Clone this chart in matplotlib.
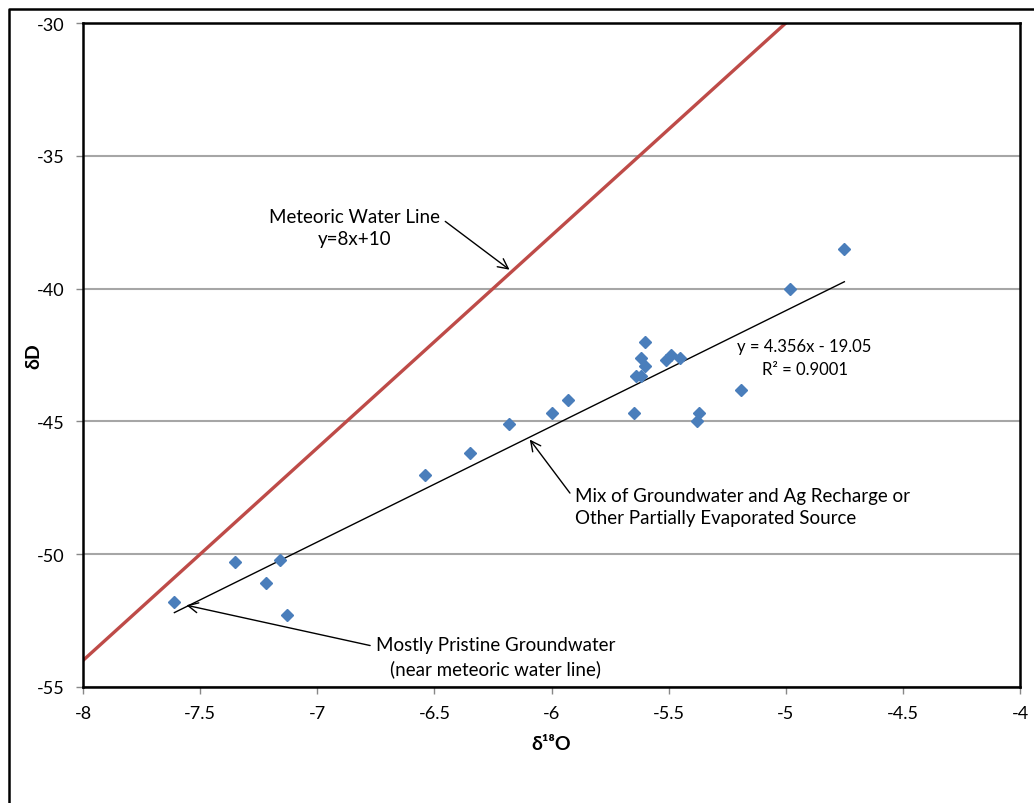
import matplotlib
matplotlib.use("Agg")
import matplotlib.pyplot as plt
import numpy as np
from matplotlib.lines import Line2D

plt.rcParams['font.family'] = ['Lato', 'DejaVu Sans']
plt.rcParams['axes.unicode_minus'] = False

# sample isotope values
d18o = [-7.61, -7.35, -7.16, -7.22, -7.13, -6.54, -6.35, -6.18, -6.00, -5.93,
        -5.60, -5.62, -5.60, -5.64, -5.62, -5.51, -5.49, -5.45, -5.19, -5.65,
        -5.37, -5.38, -4.98, -4.75]
dD = [-51.8, -50.3, -50.2, -51.1, -52.3, -47.0, -46.2, -45.1, -44.7, -44.2,
      -42.0, -42.6, -42.9, -43.3, -43.3, -42.7, -42.5, -42.6, -43.8, -44.7,
      -44.7, -45.0, -40.0, -38.5]

# lines
mwl_slope, mwl_icpt = 8, 10
fit_slope, fit_icpt = 4.356, -19.05
x_ticks = [-8, -7.5, -7, -6.5, -6, -5.5, -5, -4.5, -4]
y_ticks = [-55, -50, -45, -40, -35, -30]

fig = plt.figure(figsize=(10.34, 8.04), dpi=100)
ax = fig.add_axes([0.0803, 0.1443, 0.9062, 0.8258])

# outer chart border (Excel style)
fig.add_artist(Line2D([0.0087, 0.0087, 1.0], [0.0, 0.9876, 0.9876],
                      transform=fig.transFigure, color='black', lw=1.8))

ax.set_xlim(-8, -4)
ax.set_ylim(-55, -30)
ax.set_xticks(x_ticks)
ax.set_xticklabels([f"{t:g}" for t in x_ticks])
ax.set_yticks(y_ticks)
ax.yaxis.grid(True, color='#a6a6a6', lw=1.5)
ax.set_axisbelow(True)
for s in ax.spines.values():
    s.set_color('black')
    s.set_linewidth(1.8)
ax.tick_params(axis='both', labelsize=13, length=5, color='#888888', width=1)
ax.tick_params(axis='x', pad=8)
ax.tick_params(axis='y', pad=8)

# meteoric water line
mx = np.array([-8, -4])
ax.plot(mx, mwl_slope * mx + mwl_icpt, color='#be4b48', lw=2.4, zorder=2)

# linear trend
fx = np.array([min(d18o), max(d18o)])
ax.plot(fx, fit_slope * fx + fit_icpt, color='black', lw=1, zorder=3)

ax.plot(d18o, dD, 'D', color='#4a7ebb', markersize=6.5, zorder=4)

ax.set_xlabel("δ¹⁸O", fontsize=14, fontweight='bold', labelpad=10)
ax.set_ylabel("δD", fontsize=14, fontweight='bold', labelpad=-4)

ax.text(-4.92, -42.6, "y = 4.356x - 19.05\nR² = 0.9001", fontsize=12,
        ha='center', va='center', linespacing=1.5)

arw = dict(arrowstyle='->', color='black', lw=1, mutation_scale=18)
ax.annotate("Meteoric Water Line\ny=8x+10", xy=(-6.17, -39.35),
            xytext=(-6.84, -37.7), fontsize=13.5, ha='center', va='center',
            linespacing=1.4, arrowprops=dict(arw, relpos=(1.0, 0.75)))
ax.annotate("Mix of Groundwater and Ag Recharge or\nOther Partially Evaporated Source",
            xy=(-6.1, -45.6), xytext=(-5.9, -48.2), fontsize=13.5,
            ha='left', va='center', linespacing=1.4,
            arrowprops=dict(arw, relpos=(-0.01, 0.78)))
ax.annotate("Mostly Pristine Groundwater\n(near meteoric water line)",
            xy=(-7.57, -51.9), xytext=(-6.24, -53.85), fontsize=13.5,
            ha='center', va='center', linespacing=1.4,
            arrowprops=dict(arw, relpos=(-0.01, 0.75)))

fig.savefig("out.png", dpi=100)
